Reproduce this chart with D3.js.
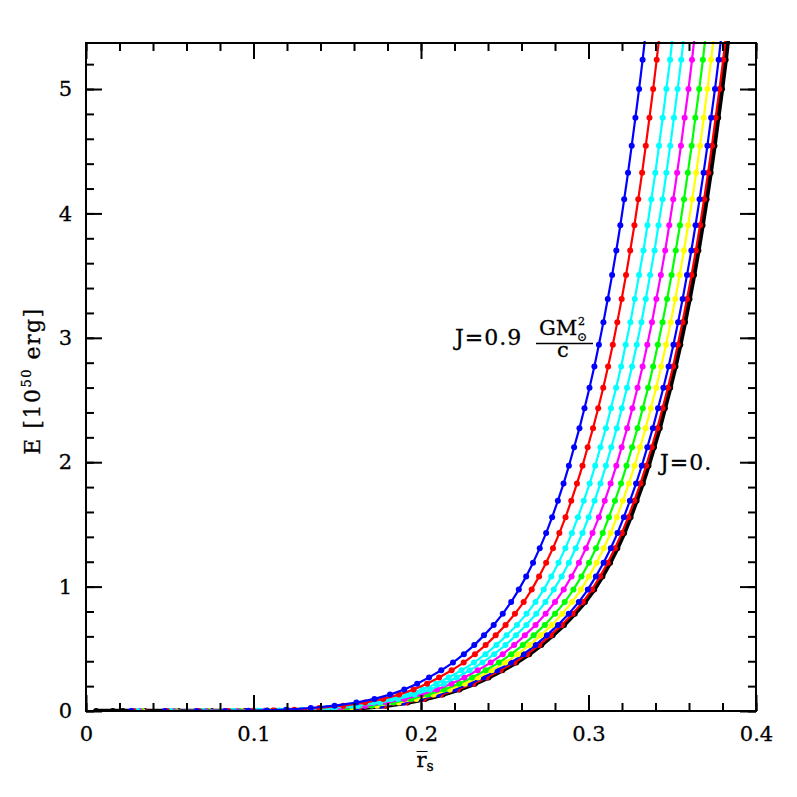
<!DOCTYPE html>
<html>
<head>
<meta charset="utf-8">
<script src="https://cdn.jsdelivr.net/npm/d3@7/dist/d3.min.js"></script>
<style>
body { margin: 0; background: #fff; }
text { font-family: "DejaVu Serif", serif; fill: #000; stroke: #000; stroke-width: 0.3; }
</style>
</head>
<body>
<svg width="797" height="797"></svg>
<script>
// E [10^50 erg] at each dot (shared rows), r_s of each curve
const energy = [0.00003, 0.0001, 0.0003, 0.0008, 0.002, 0.005, 0.011, 0.024, 0.043, 0.068,
  0.097, 0.132, 0.173, 0.219, 0.270, 0.327, 0.389, 0.457, 0.530, 0.608,
  0.692, 0.781, 0.876, 0.976, 1.082, 1.192, 1.309, 1.430, 1.558, 1.690,
  1.828, 1.971, 2.120, 2.274, 2.434, 2.599, 2.769, 2.945, 3.126, 3.312,
  3.504, 3.702, 3.905, 4.113, 4.326, 4.545, 4.770, 5.000, 5.235, 5.476]

const rsJ00 = [0.035, 0.055, 0.075, 0.095, 0.113, 0.130, 0.148, 0.164, 0.179, 0.192,
  0.2025, 0.2130, 0.2230, 0.2322, 0.2403, 0.2486, 0.2569, 0.2646, 0.2718, 0.2786,
  0.2854, 0.2918, 0.2979, 0.3034, 0.3083, 0.3129, 0.3172, 0.3213, 0.3251, 0.3287,
  0.3324, 0.3358, 0.3391, 0.3425, 0.3456, 0.3488, 0.3519, 0.3548, 0.3576, 0.3603,
  0.3630, 0.3656, 0.3681, 0.3705, 0.3729, 0.3752, 0.3774, 0.3797, 0.3819, 0.3839]
const rsJ00tail = [0.006, 0.016, 0.022]

const rsJ01 = [0.0348, 0.0548, 0.0747, 0.0946, 0.1125, 0.1293, 0.1472, 0.1631, 0.1781, 0.1911,
  0.2016, 0.2121, 0.2220, 0.2312, 0.2392, 0.2475, 0.2558, 0.2634, 0.2706, 0.2774,
  0.2841, 0.2905, 0.2966, 0.3021, 0.3069, 0.3115, 0.3158, 0.3199, 0.3237, 0.3273,
  0.3310, 0.3344, 0.3377, 0.3411, 0.3442, 0.3474, 0.3505, 0.3533, 0.3561, 0.3588,
  0.3615, 0.3641, 0.3666, 0.3690, 0.3714, 0.3737, 0.3759, 0.3782, 0.3804, 0.3824]

const rsJ02 = [0.0343, 0.0543, 0.0742, 0.0940, 0.1116, 0.1281, 0.1456, 0.1615, 0.1764, 0.1894,
  0.1999, 0.2103, 0.2202, 0.2293, 0.2373, 0.2455, 0.2537, 0.2613, 0.2684, 0.2751,
  0.2818, 0.2882, 0.2942, 0.2996, 0.3044, 0.3090, 0.3133, 0.3173, 0.3211, 0.3247,
  0.3284, 0.3318, 0.3351, 0.3384, 0.3415, 0.3447, 0.3478, 0.3507, 0.3535, 0.3562,
  0.3588, 0.3614, 0.3639, 0.3663, 0.3687, 0.3710, 0.3732, 0.3755, 0.3777, 0.3797]

const rsJ03 = [0.0336, 0.0536, 0.0734, 0.0929, 0.1102, 0.1262, 0.1430, 0.1588, 0.1737, 0.1867,
  0.1972, 0.2075, 0.2172, 0.2262, 0.2341, 0.2422, 0.2503, 0.2578, 0.2648, 0.2714,
  0.2781, 0.2843, 0.2902, 0.2955, 0.3003, 0.3049, 0.3091, 0.3132, 0.3169, 0.3205,
  0.3241, 0.3275, 0.3308, 0.3341, 0.3372, 0.3404, 0.3434, 0.3463, 0.3491, 0.3518,
  0.3544, 0.3570, 0.3595, 0.3619, 0.3643, 0.3666, 0.3688, 0.3710, 0.3732, 0.3752]

const rsJ04 = [0.0328, 0.0528, 0.0725, 0.0917, 0.1086, 0.1240, 0.1402, 0.1558, 0.1706, 0.1836,
  0.1942, 0.2043, 0.2139, 0.2227, 0.2305, 0.2386, 0.2465, 0.2539, 0.2608, 0.2673,
  0.2739, 0.2800, 0.2858, 0.2910, 0.2958, 0.3003, 0.3045, 0.3085, 0.3122, 0.3158,
  0.3194, 0.3227, 0.3260, 0.3293, 0.3324, 0.3356, 0.3386, 0.3414, 0.3442, 0.3469,
  0.3496, 0.3521, 0.3546, 0.3570, 0.3593, 0.3616, 0.3638, 0.3661, 0.3683, 0.3703]

const rsJ05 = [0.0318, 0.0518, 0.0714, 0.0901, 0.1065, 0.1211, 0.1365, 0.1519, 0.1666, 0.1796,
  0.1902, 0.2002, 0.2096, 0.2182, 0.2259, 0.2338, 0.2416, 0.2488, 0.2556, 0.2620,
  0.2684, 0.2744, 0.2800, 0.2852, 0.2899, 0.2943, 0.2985, 0.3024, 0.3062, 0.3097,
  0.3132, 0.3166, 0.3198, 0.3231, 0.3262, 0.3293, 0.3323, 0.3351, 0.3379, 0.3405,
  0.3432, 0.3458, 0.3482, 0.3506, 0.3529, 0.3552, 0.3574, 0.3597, 0.3618, 0.3638]

const rsJ06 = [0.0307, 0.0507, 0.0702, 0.0886, 0.1044, 0.1182, 0.1328, 0.1481, 0.1626, 0.1756,
  0.1863, 0.1962, 0.2054, 0.2137, 0.2213, 0.2291, 0.2367, 0.2437, 0.2504, 0.2567,
  0.2629, 0.2688, 0.2743, 0.2793, 0.2840, 0.2883, 0.2924, 0.2964, 0.3001, 0.3036,
  0.3071, 0.3104, 0.3136, 0.3169, 0.3199, 0.3230, 0.3260, 0.3288, 0.3316, 0.3342,
  0.3368, 0.3394, 0.3418, 0.3442, 0.3465, 0.3488, 0.3510, 0.3532, 0.3554, 0.3574]

const rsJ07 = [0.0296, 0.0496, 0.0690, 0.0870, 0.1023, 0.1153, 0.1289, 0.1440, 0.1585, 0.1715,
  0.1822, 0.1919, 0.2009, 0.2091, 0.2165, 0.2242, 0.2316, 0.2385, 0.2450, 0.2511,
  0.2573, 0.2630, 0.2684, 0.2733, 0.2778, 0.2821, 0.2862, 0.2901, 0.2937, 0.2972,
  0.3007, 0.3040, 0.3071, 0.3104, 0.3134, 0.3165, 0.3195, 0.3222, 0.3250, 0.3276,
  0.3302, 0.3328, 0.3352, 0.3375, 0.3399, 0.3421, 0.3443, 0.3465, 0.3487, 0.3507]

const rsJ08 = [0.0284, 0.0484, 0.0675, 0.0850, 0.0997, 0.1117, 0.1244, 0.1393, 0.1536, 0.1666,
  0.1774, 0.1869, 0.1956, 0.2036, 0.2108, 0.2183, 0.2255, 0.2322, 0.2386, 0.2446,
  0.2505, 0.2561, 0.2613, 0.2661, 0.2705, 0.2747, 0.2788, 0.2826, 0.2863, 0.2897,
  0.2931, 0.2964, 0.2995, 0.3027, 0.3058, 0.3088, 0.3117, 0.3145, 0.3172, 0.3198,
  0.3224, 0.3249, 0.3274, 0.3297, 0.3320, 0.3342, 0.3364, 0.3386, 0.3407, 0.3427]

const rsJ09 = [0.027, 0.047, 0.066, 0.083, 0.097, 0.108, 0.1195, 0.1342, 0.1484, 0.1614,
  0.1722, 0.1815, 0.1900, 0.1977, 0.2048, 0.2121, 0.2191, 0.2256, 0.2318, 0.2376,
  0.2434, 0.2488, 0.2538, 0.2584, 0.2628, 0.2669, 0.2709, 0.2747, 0.2783, 0.2817,
  0.2851, 0.2883, 0.2914, 0.2946, 0.2976, 0.3006, 0.3035, 0.3062, 0.3089, 0.3115,
  0.3141, 0.3166, 0.3190, 0.3213, 0.3236, 0.3258, 0.3280, 0.3302, 0.3323, 0.3343]

const xMajor = [0, 0.1, 0.2, 0.3, 0.4]
const yMajor = [0, 1, 2, 3, 4, 5]

// drawn first to last, so J=0.9 ends up on top
const curves = [
  {J: 0.0, color: '#000000', rs: rsJ00, tail: rsJ00tail, lw: 4.5},
  {J: 0.1, color: '#ff0000', rs: rsJ01},
  {J: 0.2, color: '#0000ff', rs: rsJ02},
  {J: 0.3, color: '#ffff00', rs: rsJ03},
  {J: 0.4, color: '#00ff00', rs: rsJ04},
  {J: 0.5, color: '#ff00ff', rs: rsJ05},
  {J: 0.6, color: '#00ffff', rs: rsJ06},
  {J: 0.7, color: '#00ffff', rs: rsJ07},
  {J: 0.8, color: '#ff0000', rs: rsJ08},
  {J: 0.9, color: '#0000ff', rs: rsJ09}
]

const svg = d3.select('svg')
const width = +svg.attr('width')
const height = +svg.attr('height')
const margin = {top: 43, right: 41, bottom: 86, left: 86}
const fontSize = 21

const x = d3.scaleLinear().domain([0, 0.4]).range([margin.left, width - margin.right])
const y = d3.scaleLinear().domain([0, 5.37]).range([height - margin.bottom, margin.top])

svg.append('clipPath').attr('id', 'plotclip')
  .append('rect')
  .attr('x', x(0)).attr('y', y(5.37) - 2)
  .attr('width', x(0.4) - x(0)).attr('height', y(0) - y(5.37) + 2)

const plot = svg.append('g').attr('clip-path', 'url(#plotclip)')

const line = d3.line()
  .x(d => x(d.rs))
  .y(d => y(d.E))

curves.forEach(c => {
  let pts = c.rs.map((r, i) => ({rs: r, E: energy[i]}))
  if (c.tail) pts = c.tail.map(r => ({rs: r, E: 0})).concat(pts)
  plot.append('path')
    .datum(pts)
    .attr('d', line)
    .attr('fill', 'none')
    .attr('stroke', c.color)
    .attr('stroke-width', c.lw || 2.2)
  plot.selectAll(null).data(pts)
    .enter().append('circle')
    .attr('cx', d => x(d.rs))
    .attr('cy', d => y(d.E))
    .attr('r', 3)
    .attr('fill', c.color)
})

// axes, ticks inward on all four sides
const fmtX = d => d === 0 ? '0' : d3.format('.1f')(d)
const styleAxis = g => {
  g.select('.domain').remove()
  g.selectAll('.tick line').attr('stroke', '#000').attr('stroke-width', 2)
  g.attr('font-family', '"DejaVu Serif", serif').attr('font-size', fontSize)
}

svg.append('g').attr('transform', `translate(0,${y(0)})`)
  .call(d3.axisBottom(x).tickValues(xMajor).tickSize(-16).tickPadding(15).tickFormat(fmtX))
  .call(styleAxis)
svg.append('g').attr('transform', `translate(0,${y(0)})`)
  .call(d3.axisBottom(x).ticks(20).tickSize(-8).tickFormat(''))
  .call(styleAxis)
svg.append('g').attr('transform', `translate(0,${y(5.37)})`)
  .call(d3.axisTop(x).tickValues(xMajor).tickSize(-16).tickFormat(''))
  .call(styleAxis)
svg.append('g').attr('transform', `translate(0,${y(5.37)})`)
  .call(d3.axisTop(x).ticks(20).tickSize(-8).tickFormat(''))
  .call(styleAxis)

svg.append('g').attr('transform', `translate(${x(0)},0)`)
  .call(d3.axisLeft(y).tickValues(yMajor).tickSize(-16).tickPadding(14).tickFormat(d3.format('d')))
  .call(styleAxis)
svg.append('g').attr('transform', `translate(${x(0)},0)`)
  .call(d3.axisLeft(y).tickValues(d3.range(0, 5.37, 0.2)).tickSize(-8).tickFormat(''))
  .call(styleAxis)
svg.append('g').attr('transform', `translate(${x(0.4)},0)`)
  .call(d3.axisRight(y).tickValues(yMajor).tickSize(-16).tickFormat(''))
  .call(styleAxis)
svg.append('g').attr('transform', `translate(${x(0.4)},0)`)
  .call(d3.axisRight(y).tickValues(d3.range(0, 5.37, 0.2)).tickSize(-8).tickFormat(''))
  .call(styleAxis)

svg.append('rect')
  .attr('x', x(0)).attr('y', y(5.37))
  .attr('width', x(0.4) - x(0)).attr('height', y(0) - y(5.37))
  .attr('fill', 'none').attr('stroke', '#000').attr('stroke-width', 2)

// axis titles
const xt = svg.append('text')
  .attr('x', x(0.2) + 4).attr('y', 767)
  .attr('text-anchor', 'middle')
  .attr('font-size', fontSize)
xt.append('tspan').text('r\u0305')
xt.append('tspan').attr('font-size', 14).attr('dy', 4).text('s')

const yt = svg.append('text')
  .attr('transform', `translate(40,${(y(0) + y(5.37)) / 2 + 4}) rotate(-90)`)
  .attr('text-anchor', 'middle')
  .attr('font-size', 22)
  .attr('letter-spacing', 1.5)
yt.append('tspan').text('E [10')
yt.append('tspan').attr('font-size', 13).attr('dy', -9).text('50')
yt.append('tspan').attr('dy', 9).text(' erg]')

// curve labels
svg.append('text').attr('x', 455).attr('y', 345).attr('font-size', 22)
  .attr('letter-spacing', 1).text('J=0.9')
svg.append('text').attr('x', 539).attr('y', 335).attr('font-size', fontSize).text('GM')
svg.append('text').attr('x', 578).attr('y', 325).attr('font-size', 11).text('2')
svg.append('text').attr('x', 577).attr('y', 341).attr('font-size', 12).text('\u2299')
svg.append('line')
  .attr('x1', 536).attr('x2', 593).attr('y1', 343.5).attr('y2', 343.5)
  .attr('stroke', '#000').attr('stroke-width', 1.5)
svg.append('text').attr('x', 563).attr('y', 357).attr('text-anchor', 'middle')
  .attr('font-size', fontSize).text('c')
svg.append('text').attr('x', 660).attr('y', 470).attr('font-size', 22)
  .attr('letter-spacing', 1).text('J=0.')
</script>
</body>
</html>
